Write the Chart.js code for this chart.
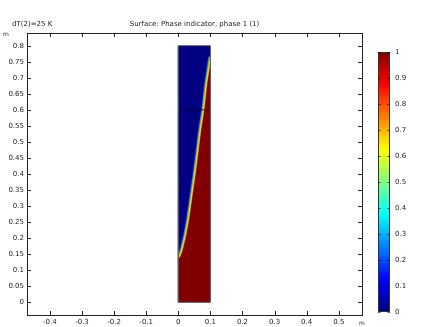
<!DOCTYPE html>
<html>
<head>
<meta charset="utf-8">
<script src="https://cdn.jsdelivr.net/npm/chart.js@4.4.1/dist/chart.umd.min.js"></script>
<style>
  html, body { margin: 0; padding: 0; background: #fff; }
  #wrap { position: relative; width: 431px; height: 327px; }
  #main { position: absolute; left: 0; top: 0; }
  #cb { position: absolute; left: 360px; top: 0; }
</style>
</head>
<body>
<div id="wrap">
  <canvas id="main" width="431" height="327"></canvas>
  <canvas id="cb" width="71" height="327"></canvas>
</div>
<script>
// ---- data ----
const titleLeft = 'dT(2)=25 K';
const titleMain = 'Surface: Phase indicator, phase 1 (1)';
const unitLabel = 'm';

const xTicks = [-0.4, -0.3, -0.2, -0.1, 0, 0.1, 0.2, 0.3, 0.4, 0.5];
const xTickLabels = ['-0.4', '-0.3', '-0.2', '-0.1', '0', '0.1', '0.2', '0.3', '0.4', '0.5'];
const yTicks = [0, 0.05, 0.1, 0.15, 0.2, 0.25, 0.3, 0.35, 0.4, 0.45, 0.5, 0.55, 0.6, 0.65, 0.7, 0.75, 0.8];
const yTickLabels = ['0', '0.05', '0.1', '0.15', '0.2', '0.25', '0.3', '0.35', '0.4', '0.45', '0.5', '0.55', '0.6', '0.65', '0.7', '0.75', '0.8'];

// geometry domain (m)
const domainX = [0, 0.1, 0.1, 0, 0];
const domainY = [0, 0, 0.8, 0.8, 0];
// internal boundary
const boundaryX = [0, 0.1];
const boundaryY = [0.6, 0.6];
// phase interface (phase indicator = 0.5 contour)
const interfaceX = [0, 0.004, 0.008, 0.012, 0.022, 0.031, 0.041, 0.051, 0.060, 0.068, 0.078, 0.087, 0.1];
const interfaceY = [0.139, 0.145, 0.155, 0.168, 0.21, 0.26, 0.33, 0.40, 0.47, 0.535, 0.60, 0.68, 0.765];
// phase value on each side of the interface
const phaseLeft = 0;
const phaseRight = 1;

// colour bar
const cbTicks = [0, 0.1, 0.2, 0.3, 0.4, 0.5, 0.6, 0.7, 0.8, 0.9, 1];
const cbTickLabels = ['0', '0.1', '0.2', '0.3', '0.4', '0.5', '0.6', '0.7', '0.8', '0.9', '1'];

// ---- styles ----
const FONT = 'DejaVu Sans';
const jetStops = [
  [0, 'rgb(0,0,128)'], [0.125, 'rgb(0,0,255)'], [0.375, 'rgb(0,255,255)'],
  [0.625, 'rgb(255,255,0)'], [0.875, 'rgb(255,0,0)'], [1, 'rgb(128,0,0)']
];
function jet(v) {
  for (let i = 1; i < jetStops.length; i++) {
    if (v <= jetStops[i][0]) {
      const a = jetStops[i - 1], b = jetStops[i];
      const t = (v - a[0]) / (b[0] - a[0]);
      const ca = a[1].match(/\d+/g).map(Number), cbb = b[1].match(/\d+/g).map(Number);
      return 'rgb(' + ca.map((c, k) => Math.round(c + (cbb[k] - c) * t)).join(',') + ')';
    }
  }
  return jetStops[jetStops.length - 1][1];
}

const pts = (xs, ys) => xs.map((x, i) => ({ x: x, y: ys[i] }));
const ifacePts = pts(interfaceX, interfaceY);
// right-hand (phase 1) region: interface then down the right edge and back along the bottom
const rightRegion = ifacePts.concat([{ x: domainX[1], y: domainY[1] }, { x: domainX[0], y: domainY[0] }, ifacePts[0]]);

// clip interface strokes to the domain
const domainClip = {
  id: 'domainClip',
  beforeDatasetDraw(chart, args) {
    const ds = chart.data.datasets[args.index];
    if (!ds.clipDomain) return;
    const { x, y } = chart.scales;
    const l = x.getPixelForValue(Math.min(...domainX)), r = x.getPixelForValue(Math.max(...domainX));
    const t = y.getPixelForValue(Math.max(...domainY)), b = y.getPixelForValue(Math.min(...domainY));
    chart.ctx.save();
    chart.ctx.beginPath();
    chart.ctx.rect(l, t, r - l, b - t);
    chart.ctx.clip();
  },
  afterDatasetDraw(chart, args) {
    const ds = chart.data.datasets[args.index];
    if (!ds.clipDomain) return;
    chart.ctx.restore();
  }
};

const axisFrame = {
  id: 'axisFrame',
  afterDraw(chart) {
    const { ctx, chartArea: a, scales } = chart;
    ctx.save();
    ctx.strokeStyle = '#222';
    ctx.lineWidth = 1;
    ctx.strokeRect(Math.round(a.left) + 0.5, Math.round(a.top) + 0.5, Math.round(a.right - a.left), Math.round(a.bottom - a.top));
    const tl = 4;
    ctx.beginPath();
    xTicks.forEach(v => {
      const px = Math.round(scales.x.getPixelForValue(v)) + 0.5;
      ctx.moveTo(px, a.bottom); ctx.lineTo(px, a.bottom - tl);
      ctx.moveTo(px, a.top); ctx.lineTo(px, a.top + tl);
    });
    yTicks.forEach(v => {
      const py = Math.round(scales.y.getPixelForValue(v)) + 0.5;
      ctx.moveTo(a.left, py); ctx.lineTo(a.left + tl, py);
      ctx.moveTo(a.right, py); ctx.lineTo(a.right - tl, py);
    });
    ctx.stroke();
    ctx.fillStyle = '#222';
    ctx.font = '7px "' + FONT + '"';
    ctx.textBaseline = 'middle';
    ctx.textAlign = 'left';
    ctx.fillText(titleLeft, 12, 24);
    ctx.textAlign = 'center';
    ctx.fillText(titleMain, (a.left + a.right) / 2, 24);
    ctx.textAlign = 'left';
    ctx.font = '6px "' + FONT + '"';
    ctx.fillText(unitLabel, 3, 34);
    ctx.fillText(unitLabel, a.right - 3, 323);
    ctx.restore();
  }
};

const lineDs = (data, color, width, order, extra) => Object.assign({
  data: data, showLine: true, borderColor: color, borderWidth: width,
  pointRadius: 0, tension: 0, fill: false, order: order, borderJoinStyle: 'round'
}, extra || {});

new Chart(document.getElementById('main'), {
  type: 'scatter',
  data: {
    datasets: [
      lineDs(pts(domainX, domainY), 'rgba(0,0,0,0)', 0, 8, { fill: 'shape', backgroundColor: jet(phaseLeft) }),
      lineDs(ifacePts, 'rgb(0,110,255)', 4.2, 7, { clipDomain: true }),
      lineDs(ifacePts, 'rgb(0,210,255)', 2.6, 6, { clipDomain: true }),
      lineDs(rightRegion, 'rgba(0,0,0,0)', 0, 5, { fill: 'shape', backgroundColor: jet(phaseRight) }),
      lineDs(ifacePts, 'rgb(230,120,0)', 2.2, 4, { clipDomain: true }),
      lineDs(ifacePts, 'rgb(200,240,50)', 1.1, 3, { clipDomain: true }),
      lineDs(pts(boundaryX, boundaryY), 'rgba(0,0,0,0.65)', 1, 2),
      lineDs(pts(domainX, domainY), 'rgb(90,90,100)', 1, 1)
    ]
  },
  options: {
    responsive: false,
    devicePixelRatio: 1,
    animation: false,
    events: [],
    layout: { padding: { left: 0, top: 33, right: 69, bottom: 0 } },
    plugins: { legend: { display: false }, tooltip: { enabled: false }, title: { display: false } },
    scales: {
      x: {
        type: 'linear', min: -0.4713, max: 0.5723,
        grid: { display: false, drawTicks: false },
        border: { display: false },
        afterBuildTicks: s => { s.ticks = xTicks.map(v => ({ value: v })); },
        afterFit: s => { s.height = 12; },
        ticks: {
          padding: 3, color: '#222', font: { family: FONT, size: 7 }, maxRotation: 0, autoSkip: false,
          callback: (v) => { const i = xTicks.findIndex(t => Math.abs(t - v) < 1e-9); return i >= 0 ? xTickLabels[i] : ''; }
        }
      },
      y: {
        type: 'linear', min: -0.0396, max: 0.8396,
        grid: { display: false, drawTicks: false },
        border: { display: false },
        afterBuildTicks: s => { s.ticks = yTicks.map(v => ({ value: v })); },
        afterFit: s => { s.width = 27; },
        ticks: {
          padding: 3, color: '#222', font: { family: FONT, size: 7 }, autoSkip: false,
          callback: (v) => { const i = yTicks.findIndex(t => Math.abs(t - v) < 1e-9); return i >= 0 ? yTickLabels[i] : ''; }
        }
      }
    }
  },
  plugins: [domainClip, axisFrame]
});

const cbFrame = {
  id: 'cbFrame',
  afterDraw(chart) {
    const { ctx, chartArea: a, scales } = chart;
    ctx.save();
    ctx.strokeStyle = '#333';
    ctx.lineWidth = 1;
    ctx.strokeRect(Math.round(a.left) + 0.5, Math.round(a.top) + 0.5, Math.round(a.right - a.left) - 1, Math.round(a.bottom - a.top) - 1);
    ctx.strokeStyle = 'rgba(0,0,0,0.6)';
    ctx.beginPath();
    cbTicks.forEach(v => {
      const py = Math.round(scales.y.getPixelForValue(v)) + 0.5;
      ctx.moveTo(a.left, py); ctx.lineTo(a.left + 2.5, py);
      ctx.moveTo(a.right, py); ctx.lineTo(a.right - 2.5, py);
    });
    ctx.stroke();
    ctx.restore();
  }
};

new Chart(document.getElementById('cb'), {
  type: 'bar',
  data: {
    labels: [''],
    datasets: [{
      data: [[cbTicks[0], cbTicks[cbTicks.length - 1]]],
      barPercentage: 1, categoryPercentage: 1, borderWidth: 0,
      backgroundColor: (c) => {
        const a = c.chart.chartArea;
        if (!a) return 'rgba(0,0,0,0)';
        const g = c.chart.ctx.createLinearGradient(0, a.bottom, 0, a.top);
        jetStops.forEach(s => g.addColorStop(s[0], s[1]));
        return g;
      }
    }]
  },
  options: {
    responsive: false,
    devicePixelRatio: 1,
    animation: false,
    events: [],
    layout: { padding: { left: 18, top: 52, right: 0, bottom: 15 } },
    plugins: { legend: { display: false }, tooltip: { enabled: false } },
    scales: {
      x: { display: false },
      y: {
        position: 'right', min: 0, max: 1,
        grid: { display: false, drawTicks: false },
        border: { display: false },
        afterBuildTicks: s => { s.ticks = cbTicks.map(v => ({ value: v })); },
        afterFit: s => { s.width = 41; },
        ticks: {
          padding: 5, color: '#222', font: { family: FONT, size: 7 }, autoSkip: false,
          callback: (v) => { const i = cbTicks.findIndex(t => Math.abs(t - v) < 1e-9); return i >= 0 ? cbTickLabels[i] : ''; }
        }
      }
    }
  },
  plugins: [cbFrame]
});
</script>
</body>
</html>
